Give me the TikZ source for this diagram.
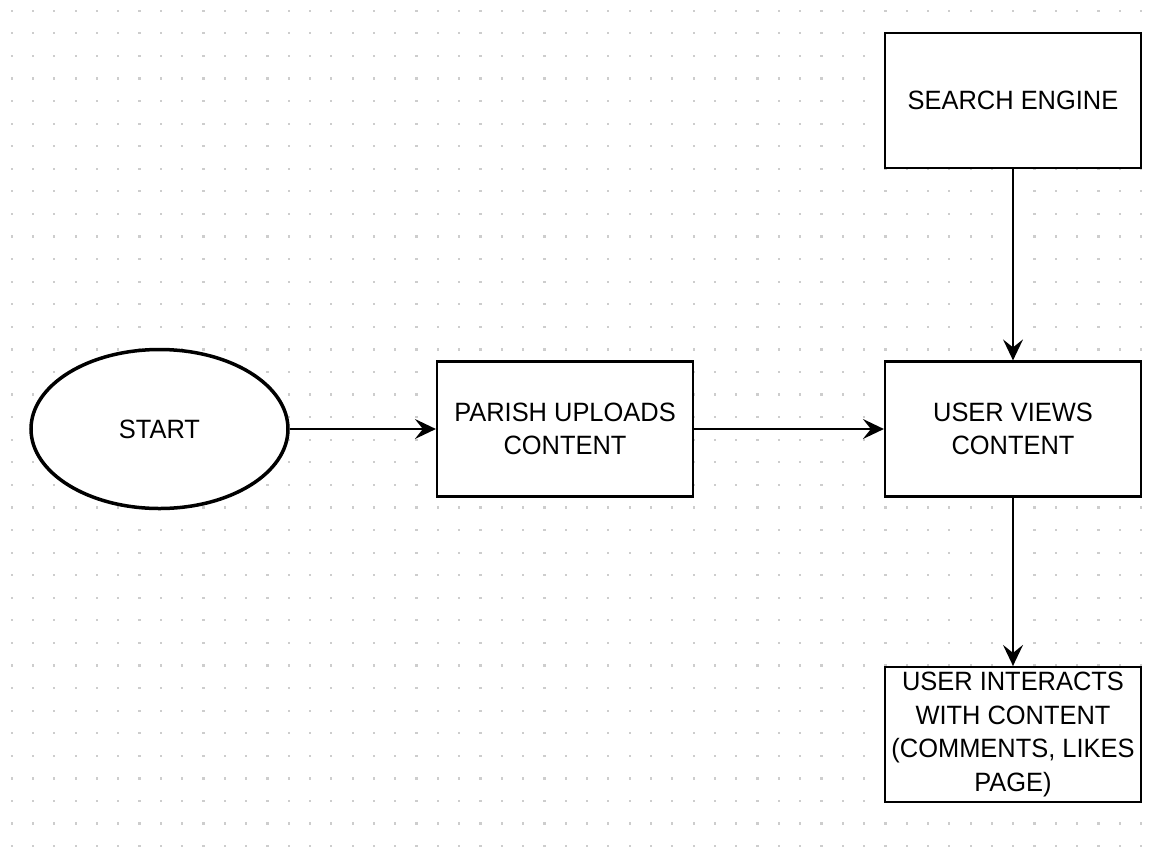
\documentclass[tikz,border=0pt]{standalone}
\usepackage{fontspec}
\setmainfont{Liberation Sans}[FakeStretch=0.96]
\usetikzlibrary{arrows.meta,shapes.geometric}
\definecolor{dotc}{RGB}{205,205,205}
\tikzset{
  box/.style={draw, fill=white, line width=2.2pt, minimum width=256pt, minimum height=135pt, inner sep=0pt, align=center, font=\fontsize{26.5}{33.5}\selectfont},
  startshape/.style={ellipse, draw, fill=white, line width=3.5pt, minimum width=257pt, minimum height=159pt, inner sep=0pt, font=\fontsize{26.5}{33.5}\selectfont},
  arr/.style={-{Stealth[length=21pt,width=20pt,inset=8pt]}, line width=1.8pt}
}
\begin{document}
\begin{tikzpicture}[x=1pt,y=-1pt]
\useasboundingbox (0,0) rectangle (1162,847);
\fill[white] (0,0) rectangle (1162,847);
\foreach \i in {0,...,53}{
  \foreach \j in {0,...,37}{
    \fill[dotc] ({11.7+\i*21.31-1.1},{10.7+\j*22.58-1.1}) rectangle ++(2.2,2.2);
  }
}
\node[startshape] (start) at (159.5,429) {START};
\node[box] (parish) at (565,429) {PARISH UPLOADS\\CONTENT};
\node[box] (views) at (1013,429) {USER VIEWS\\CONTENT};
\node[box] (search) at (1013,100.5) {SEARCH ENGINE};
\node[box] (interacts) at (1013,734.5) {USER INTERACTS\\WITH CONTENT\\(COMMENTS, LIKES\\PAGE)};
\draw[arr] (start.east) -- (parish.west);
\draw[arr] (parish.east) -- (views.west);
\draw[arr] (search.south) -- (views.north);
\draw[arr] (views.south) -- (interacts.north);
\end{tikzpicture}
\end{document}
